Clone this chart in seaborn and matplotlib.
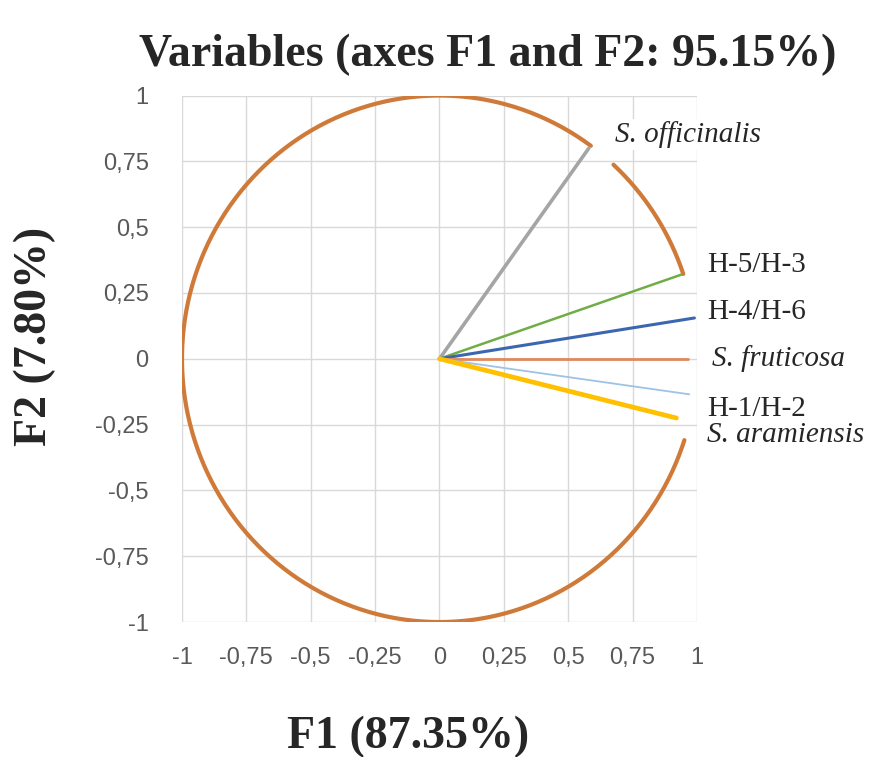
"""Correlation circle for the PCA of the variables (F1 x F2)."""

import matplotlib

matplotlib.use("Agg")
import matplotlib.pyplot as plt
import numpy as np
import pandas as pd
import seaborn as sns

# loadings
variables = ["S. officinalis", "H-5/H-3", "H-4/H-6", "S. fruticosa", "H-1/H-2", "S. aramiensis"]
f1 = [0.58, 0.94, 0.99, 0.965, 0.97, 0.92]
f2 = [0.80, 0.32, 0.155, 0.0, -0.135, -0.225]

ticks = [-1, -0.75, -0.5, -0.25, 0, 0.25, 0.5, 0.75, 1]
tick_labels = ["-1", "-0,75", "-0,5", "-0,25", "0", "0,25", "0,5", "0,75", "1"]

# styling
colors = ["#A5A5A5", "#70AD47", "#3C66B0", "#E0895A", "#9DC3E6", "#FFC000"]
widths = [2.6, 1.8, 2.2, 2.0, 1.3, 3.4]
italic = [True, False, False, True, False, True]
label_x = [0.682, 1.039, 1.039, 1.058, 1.039, 1.039]
label_y = [0.852, 0.357, 0.179, 0.0, -0.19, -0.289]
# visible arcs of the unit circle (degrees); the gaps sit behind the labels
circle_arcs = [(18.8, 47.5), (54.0, 342.0)]

sns.set_theme(style="white")
plt.rcParams["font.family"] = ["Liberation Sans", "DejaVu Sans"]

fig = plt.figure(figsize=(8.72, 7.57), dpi=100)
ax = fig.add_axes([0.2087, 0.1783, 0.5906, 0.6955])

# unit circle, drawn arc by arc
parts = []
for i, (lo, hi) in enumerate(circle_arcs):
    t = np.deg2rad(np.linspace(lo, hi, 600))
    parts.append(pd.DataFrame({"x": np.cos(t), "y": np.sin(t), "arc": i}))
circle = pd.concat(parts, ignore_index=True)
sns.lineplot(data=circle, x="x", y="y", units="arc", estimator=None, sort=False,
             color="#D07A3A", linewidth=3.0, ax=ax, zorder=3)

# vectors from the origin
for name, x, y, c, lw in zip(variables, f1, f2, colors, widths):
    seg = pd.DataFrame({"x": [0, x], "y": [0, y]})
    sns.lineplot(data=seg, x="x", y="y", estimator=None, sort=False,
                 color=c, linewidth=lw, ax=ax, zorder=4)

for name, it, lx, ly in zip(variables, italic, label_x, label_y):
    ax.text(lx, ly, name, ha="left", va="center", fontsize=21,
            family=["Liberation Serif", "DejaVu Serif"], style="italic" if it else "normal",
            color="#262626", clip_on=False, zorder=6,
            bbox=dict(facecolor="white", edgecolor="none", pad=1.5))

ax.set_xlim(-1, 1)
ax.set_ylim(-1, 1)
ax.set_xticks(ticks)
ax.set_yticks(ticks)
ax.set_xticklabels(tick_labels)
ax.set_yticklabels(tick_labels)
ax.tick_params(axis="both", length=0, labelsize=17, labelcolor="#595959")
ax.tick_params(axis="x", pad=18)
ax.tick_params(axis="y", pad=24)
ax.grid(True, color="#D9D9D9", linewidth=1.0)
for s in ax.spines.values():
    s.set_visible(False)
ax.set_xlabel("")
ax.set_ylabel("")

serif = ["Liberation Serif", "DejaVu Serif"]
fig.text(0.559, 0.913, "Variables (axes F1 and F2: 95.15%)", ha="center", va="baseline",
         fontsize=33, fontweight="bold", family=serif)
fig.text(0.468, 0.012, "F1 (87.35%)", ha="center", va="baseline",
         fontsize=33, fontweight="bold", family=serif)
fig.text(0.040, 0.556, "F2 (7.80%)", ha="center", va="center", rotation=90,
         fontsize=33, fontweight="bold", family=serif)

fig.savefig("out.png", dpi=100)
